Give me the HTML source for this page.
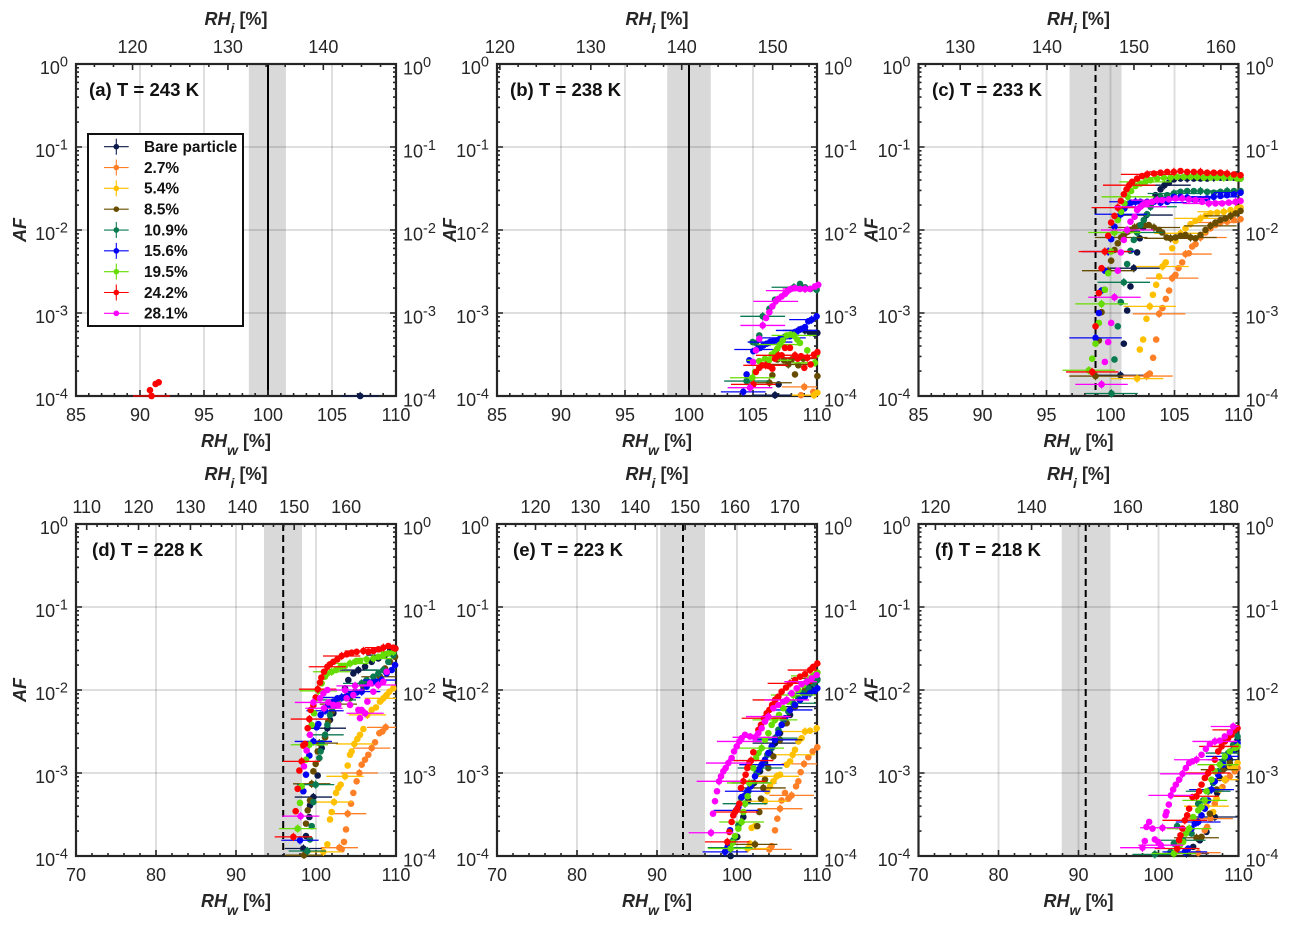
<!DOCTYPE html>
<html lang="en">
<head>
<meta charset="utf-8">
<title>Activated fraction vs relative humidity panels</title>
<style>
html,body{margin:0;padding:0;background:#fff;}
svg{display:block;font-family:"Liberation Sans",Arial,sans-serif;}
</style>
</head>
<body>
<svg id="chart" xmlns="http://www.w3.org/2000/svg" width="1292" height="927" viewBox="0 0 1292 927"></svg>
<script>
// Data: *_x = RHw [%], *_y = log10(AF)
var seriesKeys = ['bare','p27','p54','p85','p109','p156','p195','p242','p281'];
var seriesLabels = ['Bare particle','2.7%','5.4%','8.5%','10.9%','15.6%','19.5%','24.2%','28.1%'];

// Panel a
var a_bare_x=[107.2];
var a_bare_y=[-4];
var a_p242_x=[90.9,90.78,91.22,91.46];
var a_p242_y=[-4,-3.93,-3.855,-3.835];

// Panel b
var b_bare_x=[106.72,107,108.28,108.67,109.06,109.45,109.84,110.03];
var b_bare_y=[-3.99,-3.86,-3.23,-3.2,-3.21,-3.24,-3.25,-3.24];
var b_p27_x=[109.01,108.75,109.71];
var b_p27_y=[-3.89,-3.99,-3.95];
var b_p54_x=[109.77,110.03];
var b_p54_y=[-3.99,-3.96];
var b_p85_x=[106.28,106.51,106.9,107.42,107.76,108.02,108.28,108.54,108.93,110.03];
var b_p85_y=[-3.84,-3.75,-3.56,-3.57,-3.62,-3.56,-3.74,-3.63,-3.55,-3.76];
var b_p109_x=[104.5,104.97,105.23,105.49,105.76,106.28,106.72,107.76,108.2,108.67,109.06,109.5,109.97];
var b_p109_y=[-3.82,-3.35,-3.36,-3.27,-3.04,-2.95,-2.84,-2.72,-2.69,-2.65,-2.69,-2.71,-2.72];
var b_p156_x=[104.24,104.5,104.71,105.03,105.29,105.55,105.81,106.07,106.33,106.59,106.85,107.11,107.37,107.63,107.89,108.28,108.54,108.8,109.06,109.32,109.58,109.97];
var b_p156_y=[-3.95,-3.74,-3.57,-3.46,-3.44,-3.42,-3.39,-3.37,-3.35,-3.34,-3.33,-3.31,-3.3,-3.28,-3.28,-3.23,-3.21,-3.19,-3.17,-3.1,-3.08,-3.04];
var b_p195_x=[104.95,105.16,105.49,105.94,106.25,106.46,106.72,106.9,107.11,107.32,107.63,107.94,108.2,108.46,108.67,109.24,109.84,109.97];
var b_p195_y=[-3.78,-3.71,-3.58,-3.55,-3.57,-3.5,-3.47,-3.43,-3.38,-3.33,-3.27,-3.26,-3.27,-3.32,-3.36,-3.45,-3.6,-3.5];
var b_p242_x=[105.03,105.23,105.49,105.73,105.99,106.25,106.51,106.72,106.98,107.24,107.5,107.89,108.28,108.49,108.75,109.01,109.24,109.5,109.77,110.03];
var b_p242_y=[-3.86,-3.71,-3.66,-3.63,-3.63,-3.64,-3.67,-3.55,-3.51,-3.51,-3.42,-3.42,-3.51,-3.55,-3.52,-3.66,-3.54,-3.62,-3.5,-3.47];
var b_p281_x=[104.77,105,105.23,105.49,105.76,106.02,106.28,106.51,106.77,106.98,107.24,107.5,107.76,107.97,108.28,108.67,109.06,109.45,109.84,110.1];
var b_p281_y=[-3.9,-3.59,-3.45,-3.31,-3.15,-3.06,-2.99,-2.92,-2.86,-2.83,-2.8,-2.77,-2.73,-2.71,-2.7,-2.71,-2.71,-2.71,-2.68,-2.66];

// Panel c
var c_bare_x=[100.78,101.04,101.3,101.56,101.82,102.08,102.29,102.55,102.81,103.13,103.52,103.91,104.22,104.56,104.95,105.47,105.99,106.51,107.03,107.55,108.07,108.59,109.11,109.64,110.16];
var c_bare_y=[-3.75,-3.37,-2.97,-2.68,-2.46,-2.27,-2.1,-1.97,-1.82,-1.7,-1.58,-1.51,-1.46,-1.43,-1.39,-1.38,-1.38,-1.38,-1.38,-1.38,-1.37,-1.37,-1.37,-1.37,-1.38];
var c_p27_x=[102.81,103.07,103.33,103.57,103.8,104.06,104.32,104.58,104.82,105.08,105.31,105.6,105.86,106.12,106.38,106.64,107.03,107.42,107.81,108.2,108.59,109.11,109.64,110.16];
var c_p27_y=[-3.76,-3.73,-3.54,-3.32,-3.01,-2.94,-2.83,-2.73,-2.58,-2.54,-2.46,-2.39,-2.29,-2.28,-2.2,-2.17,-2.09,-2.03,-1.98,-1.94,-1.91,-1.9,-1.88,-1.87];
var c_p54_x=[102.08,102.29,102.55,102.81,103.07,103.31,103.57,103.8,104.06,104.32,104.82,105.08,105.47,105.86,106.25,106.64,107.03,107.42,107.81,108.33,108.85,109.38,109.9,110.16];
var c_p54_y=[-3.79,-3.44,-3.32,-3.07,-2.92,-2.78,-2.66,-2.56,-2.44,-2.39,-2.22,-2.13,-2.04,-1.98,-1.93,-1.89,-1.86,-1.83,-1.8,-1.79,-1.78,-1.76,-1.74,-1.73];
var c_p85_x=[98.83,99.09,99.3,99.53,99.82,100.05,100.31,100.57,100.83,101.09,101.35,101.61,101.88,102.21,102.6,102.99,103.39,103.78,104.04,104.38,104.69,105.08,105.47,105.86,106.25,106.64,107.03,107.42,107.81,108.2,108.59,108.98,109.38,109.77,110.16];
var c_p85_y=[-3.76,-3.33,-2.99,-2.72,-2.49,-2.37,-2.24,-2.16,-2.09,-2.05,-2.02,-2,-1.97,-1.95,-1.94,-1.94,-1.97,-2,-2.03,-2.09,-2.1,-2.09,-2.07,-2.06,-2.09,-2.1,-2.06,-2,-1.95,-1.91,-1.88,-1.86,-1.83,-1.8,-1.77];
var c_p109_x=[100.08,100.31,100.57,100.81,101.04,101.3,101.56,101.82,102.08,102.34,102.6,102.86,103.13,103.52,103.91,104.43,104.95,105.47,105.99,106.51,107.03,107.55,108.07,108.59,109.11,109.64,110.16];
var c_p109_y=[-3.97,-3.56,-3.16,-2.87,-2.63,-2.41,-2.25,-2.12,-2.03,-1.94,-1.88,-1.81,-1.72,-1.64,-1.6,-1.58,-1.56,-1.54,-1.53,-1.53,-1.53,-1.54,-1.55,-1.54,-1.53,-1.53,-1.53];
var c_p156_x=[98.83,99.09,99.3,99.56,99.82,100.05,100.31,100.57,100.81,101.09,101.35,101.61,101.95,102.34,102.86,103.39,103.91,104.43,104.95,105.47,105.99,106.51,107.03,107.55,108.07,108.59,109.11,109.64,110.16];
var c_p156_y=[-3.3,-3,-2.73,-2.49,-2.26,-2.11,-1.96,-1.87,-1.81,-1.74,-1.7,-1.67,-1.66,-1.66,-1.66,-1.66,-1.67,-1.66,-1.6,-1.6,-1.61,-1.63,-1.63,-1.62,-1.6,-1.59,-1.58,-1.57,-1.55];
var c_p195_x=[98.31,98.57,98.83,99.09,99.3,99.56,99.82,100.05,100.31,100.57,100.83,101.09,101.35,101.61,101.95,102.34,102.73,103.13,103.65,104.17,104.69,105.21,105.73,106.25,106.77,107.29,107.81,108.33,108.85,109.38,109.9,110.16];
var c_p195_y=[-3.69,-3.55,-3.37,-3.12,-2.89,-2.72,-2.52,-2.26,-2.03,-1.88,-1.78,-1.68,-1.6,-1.53,-1.47,-1.44,-1.42,-1.4,-1.38,-1.37,-1.37,-1.36,-1.36,-1.36,-1.36,-1.37,-1.37,-1.37,-1.37,-1.37,-1.38,-1.38];
var c_p242_x=[98.57,98.83,99.09,99.3,99.56,99.82,100.05,100.31,100.57,100.81,101.04,101.25,101.46,101.69,102.08,102.47,102.86,103.39,103.91,104.43,104.95,105.47,105.99,106.51,107.03,107.55,108.07,108.59,109.11,109.64,110.16];
var c_p242_y=[-3.71,-3.16,-2.76,-2.46,-2.26,-2.07,-1.91,-1.83,-1.73,-1.65,-1.57,-1.51,-1.46,-1.42,-1.38,-1.35,-1.33,-1.32,-1.31,-1.3,-1.3,-1.29,-1.3,-1.3,-1.3,-1.31,-1.31,-1.31,-1.32,-1.33,-1.34];
var c_p281_x=[99.3,99.56,99.82,100.05,100.31,100.57,100.81,101.04,101.3,101.56,101.88,102.08,102.34,102.6,102.86,103.26,103.65,104.04,104.56,105.08,105.6,106.12,106.64,107.16,107.68,108.2,108.72,109.24,109.77,110.16];
var c_p281_y=[-3.86,-3.59,-3.35,-3.12,-2.81,-2.49,-2.27,-2.12,-2,-1.9,-1.84,-1.76,-1.72,-1.69,-1.68,-1.66,-1.64,-1.64,-1.63,-1.62,-1.62,-1.63,-1.64,-1.66,-1.68,-1.68,-1.68,-1.67,-1.66,-1.65];

// Panel d
var d_bare_x=[98.42,98.75,99.17,99.25,99.67,100.21,100.71,101.13,101.42,101.75,102.17,102.67,103.21,103.63,104.04,104.67,105.29,106.13,106.96,107.79,108.62,109.25,109.92];
var d_bare_y=[-3.91,-3.76,-3.53,-3.39,-3.29,-3.03,-2.7,-2.57,-2.46,-2.36,-2.28,-2.18,-2.09,-1.98,-1.88,-1.8,-1.76,-1.72,-1.66,-1.62,-1.58,-1.53,-1.5];
var d_p27_x=[102.92,103.21,103.5,103.75,103.96,104.38,104.67,105.08,105.42,105.71,106.13,106.54,106.96,107.38,107.92,108.29,108.71];
var d_p27_y=[-3.9,-3.92,-3.83,-3.68,-3.49,-3.37,-3.24,-3.1,-3,-2.9,-2.84,-2.78,-2.7,-2.63,-2.52,-2.5,-2.45];
var d_p54_x=[100.92,101.42,101.75,101.96,102.25,102.5,102.79,103.08,103.63,103.96,104.25,104.46,104.79,105.17,105.5,105.92,106.42,106.96,107.5,108,108.42,108.83,109.17,109.67];
var d_p54_y=[-3.95,-3.86,-3.56,-3.47,-3.35,-3.24,-3.18,-3.14,-3.04,-2.91,-2.78,-2.74,-2.65,-2.59,-2.54,-2.47,-2.3,-2.24,-2.21,-2.14,-2.1,-2.06,-2.02,-1.98];
var d_p85_x=[98.5,98.75,98.96,99.25,99.46,99.67,99.96,100.21,100.42,101.13,101.54,101.96,102.79,104.25,105.92,107.17,108,108.63,109.25,109.88];
var d_p85_y=[-3.99,-3.61,-3.45,-3.33,-3.13,-2.98,-2.89,-2.74,-2.64,-2.57,-2.38,-2.26,-2.17,-2.1,-1.96,-1.9,-1.84,-1.74,-1.66,-1.6];
var d_p109_x=[98.92,99.25,99.46,99.67,99.96,100.42,100.58,100.71,101.13,101.42,101.75,102.08,102.67,103.42,104.25,104.88,105.71,106.33,107.17,107.79,108.42,109.04,109.67];
var d_p109_y=[-3.94,-3.8,-3.64,-3.35,-3.14,-2.82,-2.74,-2.64,-2.54,-2.42,-2.3,-2.21,-2.12,-2.09,-2.06,-2.02,-1.92,-1.88,-1.84,-1.8,-1.76,-1.66,-1.58];
var d_p156_x=[98,98.42,98.75,99.17,99.67,100.08,100.29,100.58,101.13,101.54,102.17,102.67,103.21,103.83,104.46,105.08,105.71,106.33,106.96,107.58,108.21,108.83,109.46,109.88];
var d_p156_y=[-3.81,-3.22,-3.02,-2.79,-2.62,-2.45,-2.41,-2.3,-2.25,-2.18,-2.14,-2.1,-2.09,-2.07,-2.06,-2.03,-2.02,-1.96,-1.92,-1.9,-1.88,-1.8,-1.76,-1.7];
var d_p195_x=[97.71,98,98.21,98.75,99.17,99.46,99.75,100.08,100.29,100.71,101.13,101.42,101.96,102.5,103.08,103.63,104.25,104.88,105.5,106.33,107.17,107.79,108.42,109.04,109.67];
var d_p195_y=[-3.67,-3.36,-3.16,-2.84,-2.66,-2.42,-2.28,-2.1,-2.01,-1.92,-1.84,-1.8,-1.78,-1.76,-1.72,-1.71,-1.68,-1.66,-1.65,-1.63,-1.62,-1.6,-1.58,-1.56,-1.54];
var d_p242_x=[97.17,97.46,97.71,97.92,98.21,98.42,98.63,98.96,99.17,99.33,99.67,99.96,100.21,100.5,100.67,101,101.42,101.75,102.17,102.67,103.21,103.83,104.46,105.08,105.92,106.54,107.17,107.79,108.42,109.04,109.67,109.92];
var d_p242_y=[-3.77,-3.46,-3.19,-2.97,-2.86,-2.67,-2.65,-2.46,-2.35,-2.24,-2.18,-2.09,-1.99,-1.91,-1.85,-1.78,-1.72,-1.69,-1.66,-1.63,-1.59,-1.57,-1.55,-1.54,-1.53,-1.54,-1.53,-1.51,-1.49,-1.47,-1.49,-1.5];
var d_p281_x=[98.08,98.5,98.83,99.25,99.67,100.5,100.92,101.42,101,101.54,102.17,102.79,103.63,103.83,104.25,104.67,104.88,105.29,105.5,105.71,106.13,106.42,106.75,107.17,107.79,108.42,108.83];
var d_p281_y=[-3.52,-2.92,-2.73,-2.54,-2.15,-2.1,-2.04,-2,-2.22,-2.15,-2.18,-2.18,-2,-2.1,-2.18,-2.06,-1.95,-2.24,-2.34,-2.24,-2.28,-2.14,-1.92,-2.02,-1.94,-1.9,-1.78];

// Panel e
var e_bare_x=[99.21,100.04,100.79,101.42,102.13,102.88,103.5,104.13,104.75,105.38,106,106.63,107.25,107.88,108.5,109.13,109.75,110.04];
var e_bare_y=[-4,-3.77,-3.53,-3.33,-3.12,-2.98,-2.88,-2.76,-2.64,-2.52,-2.4,-2.3,-2.2,-2.12,-2.04,-1.96,-1.9,-1.87];
var e_p27_x=[104.04,104.33,104.75,105.04,105.38,105.58,106,106.42,106.83,107.38,107.67,107.96,108.38,108.92,109.46,110.04];
var e_p27_y=[-3.92,-3.88,-3.69,-3.55,-3.43,-3.33,-3.24,-3.31,-3.27,-3.16,-3.1,-2.99,-2.89,-2.81,-2.74,-2.69];
var e_p54_x=[101.33,101.63,101.83,102.25,103.5,103.79,104.13,104.54,104.96,105.38,106.21,106.63,106.96,107.25,107.67,108.08,108.5,109.13,109.96];
var e_p54_y=[-3.91,-3.85,-3.66,-3.64,-3.34,-3.22,-3.16,-3.1,-3.04,-3.02,-2.9,-2.86,-2.78,-2.72,-2.62,-2.58,-2.5,-2.49,-2.46];
var e_p85_x=[102.25,102.54,102.79,103,103.29,103.5,103.92,104.54,105.38,106.21,107.25,108.5,109.54,110.04];
var e_p85_y=[-3.86,-3.64,-3.47,-3.31,-3.18,-3.08,-2.94,-2.8,-2.6,-2.4,-2.2,-2,-1.86,-1.79];
var e_p109_x=[99.13,99.54,100.17,100.5,101,101.42,101.83,102.46,102.88,103.29,103.79,104.33,104.75,105.17,105.79,106.42,107.04,107.67,108.29,108.92,109.54,110.04];
var e_p109_y=[-3.9,-3.81,-3.63,-3.3,-3.37,-3.22,-3.12,-3,-2.94,-2.88,-2.78,-2.7,-2.58,-2.48,-2.36,-2.26,-2.16,-2.1,-2.04,-1.98,-1.92,-1.88];
var e_p156_x=[98.5,98.83,99.13,99.54,99.88,100.17,100.58,101,101.29,101.71,102.25,102.67,103.08,103.5,103.92,104.33,104.75,105.17,105.58,106,106.63,107.25,107.88,108.5,109.13,109.75,110.04];
var e_p156_y=[-3.95,-3.89,-3.69,-3.51,-3.45,-3.41,-3.29,-3.27,-3.22,-3.16,-3.04,-2.96,-2.9,-2.84,-2.76,-2.68,-2.6,-2.52,-2.42,-2.34,-2.24,-2.18,-2.12,-2.08,-2.04,-2,-1.98];
var e_p195_x=[99.21,99.46,99.75,100.17,100.58,100.79,101,101.33,101.54,102.04,102.38,102.67,103.08,103.5,103.92,104.33,104.75,105.25,105.79,106.42,107.04,107.67,108.29,108.92,109.54,110.04];
var e_p195_y=[-3.91,-3.84,-3.76,-3.67,-3.59,-3.47,-3.37,-3.28,-3.12,-2.94,-2.82,-2.76,-2.7,-2.6,-2.52,-2.42,-2.36,-2.3,-2.22,-2.14,-2.06,-2,-1.94,-1.88,-1.83,-1.79];
var e_p242_x=[98.79,99.04,99.33,99.54,99.75,100.04,100.29,100.5,100.79,101.08,101.29,101.54,101.75,102.04,102.67,103,103.38,103.71,104.04,104.38,104.75,105.17,105.58,106.13,106.63,107.25,107.88,108.5,109.13,109.54,110.04];
var e_p242_y=[-3.83,-3.71,-3.59,-3.51,-3.47,-3.43,-3.37,-3.18,-3.1,-3.02,-2.94,-2.88,-2.85,-2.75,-2.48,-2.42,-2.34,-2.28,-2.24,-2.18,-2.12,-2.08,-2.02,-1.97,-1.92,-1.88,-1.84,-1.81,-1.76,-1.72,-1.68];
var e_p281_x=[96.75,97,97.25,97.5,97.75,98,98.29,98.58,98.92,99.33,99.63,99.96,100.29,100.58,101,101.63,102.25,102.67,103.08,103.5,103.92,104.54,105.17,105.79,106.21,106.83,107.46,108.08,108.71,109.33,109.96];
var e_p281_y=[-3.72,-3.49,-3.34,-3.22,-3.1,-3.04,-2.98,-2.94,-2.88,-2.82,-2.74,-2.68,-2.62,-2.58,-2.54,-2.56,-2.57,-2.52,-2.46,-2.38,-2.32,-2.22,-2.18,-2.14,-2.12,-2.04,-1.98,-1.93,-1.9,-1.86,-1.82];

// Panel f
var f_bare_x=[103.5,104.33,105.17,106,107.04,107.33,107.67,108.29,108.92,109.54,109.88];
var f_bare_y=[-3.97,-3.89,-3.81,-3.71,-3.53,-3.24,-3.06,-2.94,-2.84,-2.72,-2.6];
var f_p27_x=[104.96,105.38,105.79,106.08,106.5,107.04,107.25,108,108.42,108.92,109.54,109.88];
var f_p27_y=[-3.96,-3.77,-3.69,-3.65,-3.55,-3.37,-3.31,-3.17,-3.08,-3.04,-2.98,-2.94];
var f_p54_x=[106,106.83,107.25,107.67,108.29,108.92,109.54,109.88];
var f_p54_y=[-3.4,-3.47,-3.31,-3.2,-3.08,-2.92,-2.94,-2.88];
var f_p85_x=[104.75,105.38,106.42,107.25,108.08,108.92,109.75];
var f_p85_y=[-3.78,-3.77,-3.49,-3.2,-2.96,-2.88,-2.66];
var f_p109_x=[99.54,101.5,101.92,102.33,103.08,104.13,104.96,105.58,106.21,106.83,107.46,108.08,108.71,109.33,109.88];
var f_p109_y=[-3.98,-3.95,-3.85,-3.64,-3.81,-3.73,-3.37,-3.33,-3.22,-3.12,-2.98,-2.86,-2.76,-2.66,-2.56];
var f_p156_x=[103.29,103.71,104.13,104.54,104.96,105.38,105.79,106.21,106.63,107.04,107.46,108.08,108.71,109.33,109.88];
var f_p156_y=[-3.95,-3.91,-3.67,-3.61,-3.59,-3.51,-3.43,-3.33,-3.2,-3.1,-3.02,-2.9,-2.8,-2.72,-2.64];
var f_p195_x=[101.92,102.67,103.08,103.42,103.83,104.33,104.96,105.38,105.79,106,106.63,107.04,107.67,108.29,108.92,109.54,109.88];
var f_p195_y=[-3.97,-3.87,-3.83,-3.73,-3.67,-3.53,-3.45,-3.41,-3.33,-3.22,-3.08,-2.98,-2.9,-2.8,-2.74,-2.7,-2.68];
var f_p242_x=[102.33,102.58,102.75,103,103.29,103.58,103.83,104.25,104.75,105.08,105.38,105.79,106.21,106.63,107.04,107.46,107.88,108.29,108.71,109.13,109.54,109.88];
var f_p242_y=[-3.91,-3.81,-3.75,-3.67,-3.57,-3.51,-3.43,-3.29,-3.28,-3.22,-3.14,-3.06,-3,-2.94,-2.84,-2.74,-2.68,-2.62,-2.58,-2.54,-2.48,-2.46];
var f_p281_x=[98,98.29,99.54,99.96,100.29,98.83,98.5,99.25,100.5,100.88,101,101.29,101.54,101.83,102.17,102.58,103,103.42,103.83,104.25,104.75,105.38,105.92,106.42,107.04,107.67,108.29,108.92,109.33];
var f_p281_y=[-3.9,-3.82,-3.8,-3.83,-3.87,-3.59,-3.65,-3.67,-3.66,-3.51,-3.47,-3.38,-3.27,-3.2,-3.14,-3.08,-3.01,-2.94,-2.88,-2.86,-2.84,-2.78,-2.71,-2.65,-2.62,-2.61,-2.56,-2.51,-2.44];

// Tick labels
var yTickExps=[0,-1,-2,-3,-4];
var a_xticks=[85,90,95,100,105,110];
var b_xticks=[85,90,95,100,105,110];
var c_xticks=[85,90,95,100,105,110];
var d_xticks=[70,80,90,100,110];
var e_xticks=[70,80,90,100,110];
var f_xticks=[70,80,90,100,110];
var a_rhiticks=[120,130,140];
var b_rhiticks=[120,130,140,150];
var c_rhiticks=[130,140,150,160];
var d_rhiticks=[110,120,130,140,150,160];
var e_rhiticks=[120,130,140,150,160,170];
var f_rhiticks=[120,140,160,180];

// Panel metadata: axis limits, RHi/RHw ratio, homogeneous-freezing line and band (RHw)
var a_meta={title:'(a) T = 243 K',xmin:85,xmax:110,ratio:1.342,line:100,bandLo:98.5,bandHi:101.4,errX:1.45};
var b_meta={title:'(b) T = 238 K',xmin:85,xmax:110,ratio:1.408,line:100,bandLo:98.3,bandHi:101.7,errX:1.75};
var c_meta={title:'(c) T = 233 K',xmin:85,xmax:110,ratio:1.473,line:98.83,bandLo:96.8,bandHi:100.86,errX:2.05};
var d_meta={title:'(d) T = 228 K',xmin:70,xmax:110,ratio:1.542,line:95.9,bandLo:93.5,bandHi:98.25,errX:2.33};
var e_meta={title:'(e) T = 223 K',xmin:70,xmax:110,ratio:1.604,line:93.25,bandLo:90.4,bandHi:96,errX:2.8};
var f_meta={title:'(f) T = 218 K',xmin:70,xmax:110,ratio:1.664,line:90.9,bandLo:87.9,bandHi:94,errX:2.8};
var errLogAF=0.05;

// Layout
var layout=[
 {id:'a',L:76,T:64,titleDx:13,afDx:-50,topTitle:-39,minorX:1,dash:false},
 {id:'b',L:497,T:64,titleDx:13,afDx:-41,topTitle:-39,minorX:1,dash:false},
 {id:'c',L:918.5,T:64,titleDx:13.5,afDx:-41,topTitle:-39,minorX:1,dash:true},
 {id:'d',L:76,T:524,titleDx:16,afDx:-50,topTitle:-44,minorX:2,dash:true},
 {id:'e',L:497,T:524,titleDx:16,afDx:-41,topTitle:-44,minorX:2,dash:true},
 {id:'f',L:918.5,T:524,titleDx:16.5,afDx:-41,topTitle:-44,minorX:2,dash:true}
];
var W=320,H=332,DEC=83;
var colors=['#0b1a4a','#ff7f27','#ffc000','#674c00','#0a7a50','#0404f4','#66dd00','#ff0000','#ff00ff'];
var legendErr=[8,8,8,1,8,8,8,8,1];
var INK='#262626';
var svg=document.getElementById('chart');
var NS='http://www.w3.org/2000/svg';

function mk(tag,attrs,parent){
  var el=document.createElementNS(NS,tag);
  for(var k in attrs){el.setAttribute(k,attrs[k]);}
  (parent||svg).appendChild(el);
  return el;
}
function span(parent,text,attrs){
  var t=mk('tspan',attrs||{},parent);
  t.textContent=text;
  return t;
}
function powerLabel(parent,x,y,anchor,exp){
  var t=mk('text',{x:x,y:y,'text-anchor':anchor,'font-size':18,fill:INK},parent);
  span(t,'10');
  span(t,String(exp),{'font-size':14.5,dy:-7.5});
  return t;
}
function axisTitle(parent,cx,y,main,sub,dropY){
  var t=mk('text',{x:cx,y:y,'text-anchor':'middle','font-size':18,'font-weight':'bold',fill:INK},parent);
  span(t,main,{'font-style':'italic'});
  span(t,sub,{'font-style':'italic','font-size':14,dy:dropY});
  span(t,' [%]',{dy:-dropY});
  return t;
}

layout.forEach(function(p){
  var id=p.id;
  var meta=window[id+'_meta'];
  var L=p.L,T=p.T,R=L+W,B=T+H;
  var sx=function(v){return L+(v-meta.xmin)/(meta.xmax-meta.xmin)*W;};
  var sy=function(v){return T-v*DEC;};

  var g=mk('g',{});
  
  

  var clip=mk('clipPath',{id:'clip-'+id},g);
  mk('rect',{x:L,y:T-3,width:W,height:H+6},clip);

  var band=mk('rect',{x:sx(meta.bandLo),y:T,width:sx(meta.bandHi)-sx(meta.bandLo),height:H,fill:'#d9d9d9'},g);
  
  

  var xt=window[id+'_xticks'];
  xt.forEach(function(v){
    if(v===meta.xmin||v===meta.xmax){return;}
    var gl=mk('line',{x1:sx(v),x2:sx(v),y1:T,y2:B,stroke:'rgba(38,38,38,0.15)','stroke-width':2},g);
    
    
  });
  yTickExps.forEach(function(e){
    if(e===0||e===-4){return;}
    var gl=mk('line',{x1:L,x2:R,y1:sy(e),y2:sy(e),stroke:'rgba(38,38,38,0.15)','stroke-width':2},g);
    
    
  });

  var vl=mk('line',{x1:sx(meta.line),x2:sx(meta.line),y1:T,y2:B,stroke:'#000','stroke-width':2},g);
  if(p.dash){vl.setAttribute('stroke-dasharray','7 4');}
  
  

  var ticks=mk('g',{stroke:INK,'stroke-width':1.6,fill:'none'},g);
  
  
  var d='';
  for(var v=meta.xmin;v<=meta.xmax;v+=p.minorX){
    var major=xt.indexOf(v)>=0;
    var len=major?6:3;
    d+='M'+sx(v)+' '+B+'v'+(-len);
  }
  var rhiLo=meta.xmin*meta.ratio,rhiHi=meta.xmax*meta.ratio;
  var rt=window[id+'_rhiticks'];
  for(var r=Math.ceil(rhiLo/2)*2;r<=rhiHi;r+=2){
    d+='M'+sx(r/meta.ratio)+' '+T+'v'+(rt.indexOf(r)>=0?6:3);
  }
  for(var e=0;e>-4;e--){
    d+='M'+L+' '+sy(e)+'h6M'+R+' '+sy(e)+'h-6';
    for(var m=2;m<10;m++){
      var yy=sy(e-1+Math.log10(m));
      d+='M'+L+' '+yy+'h3M'+R+' '+yy+'h-3';
    }
  }
  d+='M'+L+' '+B+'h6M'+R+' '+B+'h-6';
  var tp=mk('path',{d:d},ticks);
  
  

  var frame=mk('rect',{x:L,y:T,width:W,height:H,fill:'none',stroke:INK,'stroke-width':2.2},g);
  
  

  seriesKeys.forEach(function(key,si){
    var xs=window[id+'_'+key+'_x'];
    var ys=window[id+'_'+key+'_y'];
    if(!xs){return;}
    var sg=mk('g',{},g);
    
    
    var barG=mk('g',{'clip-path':'url(#clip-'+id+')'},sg);
    
    
    xs.forEach(function(x,i){
      if(i%4!==0){return;}
      var h=mk('line',{x1:sx(x-meta.errX),x2:sx(x+meta.errX),y1:sy(ys[i]),y2:sy(ys[i]),stroke:colors[si],'stroke-width':1.3},barG);
      
      
      var v=mk('line',{x1:sx(x),x2:sx(x),y1:sy(ys[i]-errLogAF),y2:sy(ys[i]+errLogAF),stroke:colors[si],'stroke-width':1.1},barG);
      
      
    });
    xs.forEach(function(x,i){
      var c=mk('circle',{cx:sx(x),cy:sy(ys[i]),r:3.3,fill:colors[si]},sg);
      
      
    });
  });

  xt.forEach(function(v){
    var t=mk('text',{x:sx(v),y:B+25,'text-anchor':'middle','font-size':18,fill:INK},g);
    t.textContent=v;
    
    
  });
  rt.forEach(function(v){
    var t=mk('text',{x:sx(v/meta.ratio),y:T-11,'text-anchor':'middle','font-size':18,fill:INK},g);
    t.textContent=v;
    
    
  });
  yTickExps.forEach(function(e){
    var l=powerLabel(g,L-8,sy(e)+10,'end',e);
    
    
    var rr=powerLabel(g,R+7,sy(e)+10.5,'start',e);
    
    
  });

  var xT=axisTitle(g,L+160,B+51,'RH','w',8);
  
  
  var tT=axisTitle(g,L+160,T+p.topTitle,'RH','i',8);
  
  

  var af=mk('text',{x:0,y:0,'text-anchor':'middle','font-size':18,'font-weight':'bold','font-style':'italic',fill:INK,transform:'translate('+(L+p.afDx)+','+(T+166)+') rotate(-90)'},g);
  af.textContent='AF';
  
  

  var pt=mk('text',{x:L+p.titleDx,y:T+32,'font-size':18.6,'font-weight':'bold',fill:'#111'},g);
  pt.textContent=meta.title;
  
  
});

// Legend
var lg=mk('g',{});


var lgBox=mk('rect',{x:88,y:134,width:155,height:192,fill:'#fff',stroke:'#111','stroke-width':2},lg);


seriesLabels.forEach(function(name,i){
  var y=146.7+i*20.83;
  var eg=mk('g',{},lg);
  
  
  mk('line',{x1:104,x2:128.7,y1:y,y2:y,stroke:colors[i],'stroke-width':1.1},eg);
  mk('line',{x1:116.3,x2:116.3,y1:y-legendErr[i],y2:y+legendErr[i],stroke:colors[i],'stroke-width':1.1},eg);
  mk('circle',{cx:116.3,cy:y,r:2.8,fill:colors[i]},eg);
  var t=mk('text',{x:144,y:y+5.3,'font-size':15.4,'font-weight':'bold',fill:'#111'},eg);
  t.textContent=name;
});
</script>
</body>
</html>
